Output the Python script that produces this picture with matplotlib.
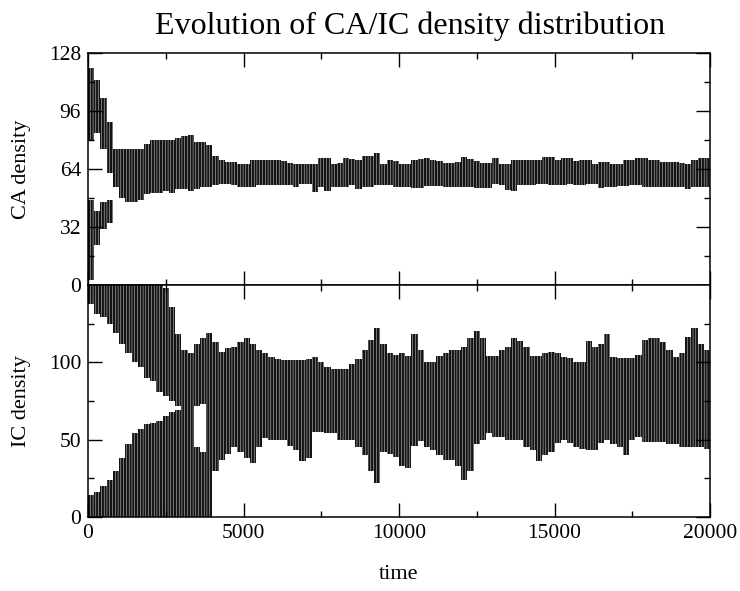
import matplotlib
matplotlib.use('Agg')
import matplotlib.pyplot as plt
import numpy as np

plt.rcParams['font.family'] = ['Liberation Serif', 'DejaVu Serif']
plt.rcParams['hatch.color'] = 'white'
plt.rcParams['hatch.linewidth'] = 0.3

# time columns (centre of each 200-step bin)
time = np.arange(100, 20000, 200)

# CA density: band extent per time column
ca_hi = [120, 113, 103, 90, 75, 75, 75, 75, 75, 78, 80, 80, 80, 80, 81, 82, 83, 79, 79, 77,
         71, 69, 68, 68, 67, 67, 69, 69, 69, 69, 69, 68.5, 67.5, 67, 67, 66.5, 66.5, 70, 70, 67,
         67.5, 70, 69.5, 69, 71, 71, 73, 67, 69, 68.5, 67, 67, 69, 69.5, 70, 69, 68.5, 67.5, 67.5, 68,
         70.5, 69.5, 68.5, 67.5, 67.5, 70, 67, 67, 69, 69, 69, 69, 69, 70.5, 70.5, 69, 70, 70, 68.5, 69,
         69, 67, 68, 68, 67, 67, 69, 69, 70, 70, 69, 69, 68, 68, 68, 67.5, 67, 69, 70, 70]
ca_lo = [3, 22, 31, 34, 54, 48, 46, 46, 47, 50, 51, 51, 52, 51, 53, 53, 52, 53, 54, 54,
         55, 56, 56, 55, 54, 54, 54, 55, 55, 55, 55, 55, 55, 54, 55.5, 55.5, 51.5, 54, 52, 54,
         54, 54, 55, 53, 54, 54, 55, 55, 55, 54, 54, 54, 53.5, 53.5, 54.5, 54.5, 54.5, 54, 54, 54,
         54, 54, 53.5, 53.5, 53.5, 56, 55, 52.5, 52, 55, 55, 55, 55.5, 55.5, 55, 55, 55, 55.5, 55, 55,
         55.5, 55.5, 53.5, 54, 54, 54.5, 54.5, 55, 55, 54, 54, 54, 54, 54, 54, 54, 53, 54, 54, 54]
# empty gap inside the CA band at early times
ca_gap_lo = [47, 41, 46, 47]
ca_gap_hi = [80, 84, 75, 62]

# IC density: band extent per time column
ic_hi = [150, 150, 150, 150, 150, 150, 150, 150, 150, 150, 150, 150, 148, 136, 118, 108, 106, 112, 116, 119,
         113, 107, 109, 110, 113, 116, 112, 108, 106, 103.5, 102, 101.5, 101.5, 101.5, 101.5, 102, 103.5, 100, 97, 96,
         96, 96, 99, 102, 108, 114.5, 122, 112, 106, 105, 106, 104, 118, 108, 100, 100, 104, 106, 108, 108,
         110, 116, 120, 116, 104, 104, 108, 110, 116, 114, 110, 104, 104, 106, 107, 106, 103.5, 103, 100, 100,
         114, 110, 112, 118, 103.5, 103, 102.5, 103, 105, 114.5, 115.5, 115.5, 113, 108, 103.5, 106, 116.5, 122, 112, 108]
ic_lo = [0, 0, 0, 0, 0, 0, 0, 0, 0, 0, 0, 0, 0, 0, 0, 0, 0, 0, 0, 0,
         30, 37, 41, 45, 42, 38, 35, 45, 51, 50, 50, 49.5, 46, 43, 36, 38, 55, 55, 54, 54,
         50, 50, 50, 45, 40, 30, 22, 42, 41, 39, 33, 32, 46, 49, 45, 43, 40, 37, 37, 33,
         24, 30, 47, 50, 54, 52, 52, 50, 49.5, 49.5, 45, 43, 36, 40, 42, 48, 49.5, 48, 45, 44,
         43, 43, 48, 49.5, 47, 45, 40, 50, 52, 48.5, 48.5, 48.5, 48.5, 47.5, 47.5, 45, 45, 45, 45, 44]
# empty gap inside the IC band at early times (nan = no gap)
ic_gap_lo = [14, 16, 20, 24, 30, 38, 47, 54, 57, 60, 61, 62, 65, 68, 69, np.nan, np.nan, 45, 42]
ic_gap_hi = [138, 131, 129, 125, 119, 112, 106, 100, 97, 90, 88, 81, 78, 75, 72, np.nan, np.nan, 72, 73]


def draw_band(ax, t, lo, hi, gap_lo, gap_hi):
    lo = np.array(lo, float)
    hi = np.array(hi, float)
    g_lo = np.full(len(t), np.nan)
    g_hi = np.full(len(t), np.nan)
    g_lo[:len(gap_lo)] = gap_lo
    g_hi[:len(gap_hi)] = gap_hi
    has_gap = ~np.isnan(g_lo)
    top_of_low = np.where(has_gap, g_lo, hi)
    style = dict(width=200, color='#141414', hatch='||||||', linewidth=0)
    ax.bar(t, top_of_low - lo, bottom=lo, **style)
    ax.bar(t[has_gap], hi[has_gap] - g_hi[has_gap], bottom=g_hi[has_gap], **style)


def style_axis(ax):
    ax.set_xlim(0, 20000)
    ax.tick_params(which='both', direction='in', top=True, right=True,
                   labelsize=15.5, width=1, pad=5)
    ax.tick_params(which='major', length=10)
    ax.tick_params(which='minor', length=4.5)
    ax.set_xticks(np.arange(0, 20001, 5000))
    ax.set_xticks(np.arange(2500, 20000, 5000), minor=True)
    for s in ax.spines.values():
        s.set_linewidth(1.1)


fig = plt.figure(figsize=(7.4, 5.91), dpi=100)
ax1 = fig.add_axes([88 / 740, 1 - 285 / 591, 622 / 740, 232 / 591])
ax2 = fig.add_axes([88 / 740, 1 - 517 / 591, 622 / 740, 232 / 591])

draw_band(ax1, time, ca_lo, ca_hi, ca_gap_lo, ca_gap_hi)
style_axis(ax1)
ax1.set_ylim(0, 128)
ax1.set_yticks([0, 32, 64, 96, 128])
ax1.set_yticks([16, 48, 80, 112], minor=True)
ax1.tick_params(labelbottom=False)
ax1.set_ylabel('CA density', fontsize=16)
ax1.yaxis.set_label_coords(-0.092, 0.5)

draw_band(ax2, time, ic_lo, ic_hi, ic_gap_lo, ic_gap_hi)
style_axis(ax2)
ax2.set_ylim(0, 150)
ax2.set_yticks([0, 50, 100])
ax2.set_yticks([25, 75, 125], minor=True)
ax2.set_ylabel('IC density', fontsize=16)
ax2.yaxis.set_label_coords(-0.092, 0.5)
ax2.set_xlabel('time', fontsize=16)
ax2.xaxis.set_label_coords(0.5, -0.205)

fig.text(410 / 740, 1 - 26 / 591, 'Evolution of CA/IC density distribution',
         fontsize=23, ha='center', va='center')

fig.savefig('out.png', dpi=100)
